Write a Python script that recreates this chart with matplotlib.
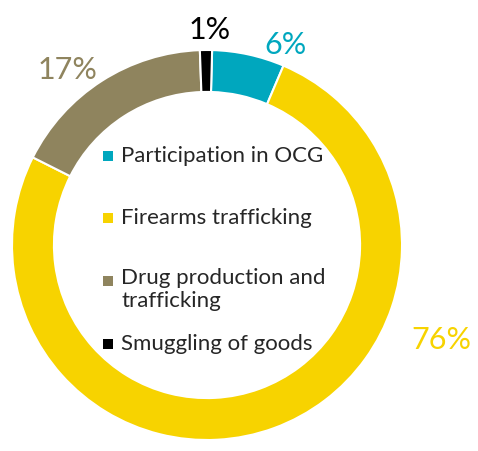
import matplotlib
matplotlib.use("Agg")
import matplotlib.pyplot as plt

# --- data ---
categories = ["Participation in OCG", "Firearms trafficking",
              "Drug production and\ntrafficking", "Smuggling of goods"]
shares = [6, 76, 17, 1]
pct_labels = ["6%", "76%", "17%", "1%"]
colors = ["#00A7BE", "#F7D300", "#8F845E", "#000000"]

plt.rcParams["font.family"] = ["Lato", "DejaVu Sans"]

W, H = 478, 451
cx, cy, R = 207, 245, 195   # donut centre / radius in pixels


def px(x, y):
    # pixel position -> data coords
    return (x - cx) / R, (cy - y) / R


fig = plt.figure(figsize=(W / 100, H / 100), dpi=100)
ax = fig.add_axes([0, 0, 1, 1])

ax.pie(shares, colors=colors, startangle=88.5, counterclock=False, radius=1,
       wedgeprops=dict(width=0.215, edgecolor="white", linewidth=1.5))

# pie() resets the limits, so set them afterwards
ax.set_xlim(-cx / R, (W - cx) / R)
ax.set_ylim(-(H - cy) / R, cy / R)
ax.set_aspect("equal")
ax.axis("off")

# percentage labels
label_pos = [(285, 45), (441, 340), (67, 70), (210, 30)]
for lab, col, (x, y) in zip(pct_labels, colors, label_pos):
    ax.text(*px(x, y), lab, color=col, fontsize=22, ha="center", va="center")

# legend in the hole
rows_y = [156, 218, 281, 344]
for cat, col, y in zip(categories, colors, rows_y):
    mx, my = px(108, y)
    ax.scatter([mx], [my], marker="s", s=60, color=col, linewidths=0)
    tx, ty = px(121, y)
    if "\n" in cat:
        ax.text(tx, ty + 13 / R, cat, fontsize=16, color="#262626",
                ha="left", va="top", linespacing=1.2)
    else:
        ax.text(tx, ty, cat, fontsize=16, color="#262626",
                ha="left", va="center")

fig.savefig("out.png", dpi=100)
